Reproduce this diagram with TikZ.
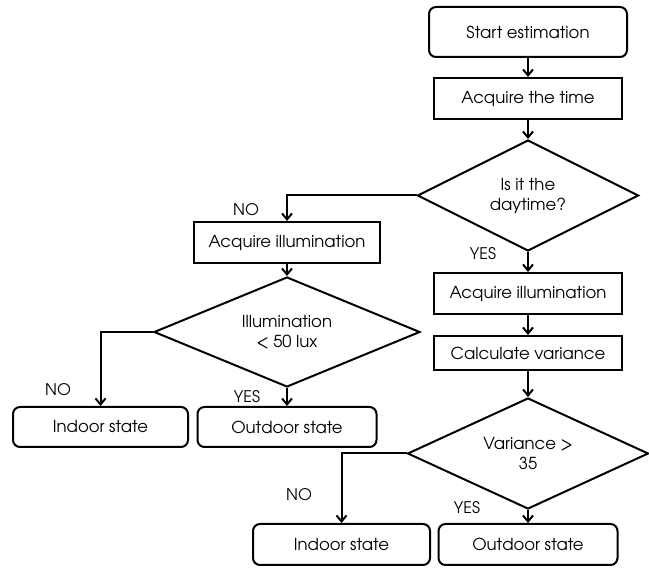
\documentclass[tikz,border=0pt]{standalone}
\usepackage{fontspec}
\setmainfont{TeX Gyre Adventor}
\usetikzlibrary{shapes.geometric,arrows.meta}
\tikzset{
  base/.style={draw=black, line width=2pt, inner sep=0pt, font=\fontsize{16.5}{20}\selectfont, align=center},
  rbox/.style={base, rectangle, rounded corners=7pt, minimum width=#1, minimum height=41pt},
  sbox/.style={base, rectangle, minimum width=#1, minimum height=41pt},
  dbox/.style={base, diamond, aspect=2},
  lbl/.style={font=\fontsize{16}{19}\selectfont, inner sep=0pt},
  arr/.style={line width=2pt, -{Straight Barb[length=6pt,width=10pt,line width=2pt]}}
}
\begin{document}
\begin{tikzpicture}[x=1pt,y=-1pt]
\useasboundingbox (0,0) rectangle (649,569);
\node[rbox=198pt, minimum height=50pt] (start) at (528,32) {Start estimation};
\node[sbox=188pt] (time) at (528,98.5) {Acquire the time};
\node[dbox, minimum width=221pt, minimum height=111pt] (day) at (528,195.5) {Is it the\\daytime?};
\node[sbox=188pt] (illR) at (528,293.5) {Acquire illumination};
\node[sbox=188pt, minimum height=34pt] (var) at (528,353) {Calculate variance};
\node[dbox, minimum width=241pt, minimum height=111pt] (vd) at (528,453.5) {Variance >\\35};
\node[rbox=177pt] (inR) at (341.5,544.5) {Indoor state};
\node[rbox=179pt] (outR) at (528,544.5) {Outdoor state};
\node[sbox=186pt] (illL) at (287,242.5) {Acquire illumination};
\node[dbox, minimum width=266pt, minimum height=110pt] (ld) at (287,332) {Illumination\\< 50 lux};
\node[rbox=175pt, minimum height=40pt] (inL) at (100.5,427) {Indoor state};
\node[rbox=179pt, minimum height=40pt] (outL) at (287,427) {Outdoor state};

\draw[arr] (start) -- (time);
\draw[arr] (time) -- (day.north);
\draw[arr] (day.west) -| (illL.north);
\draw[arr] (day.south) -- (illR.north);
\draw[arr] (illR) -- (var);
\draw[arr] (var) -- (vd.north);
\draw[arr] (illL) -- (ld.north);
\draw[arr] (ld.west) -| (inL.north);
\draw[arr] (ld.south) -- (outL.north);
\draw[arr] (vd.west) -| (inR.north);
\draw[arr] (vd.south) -- (outR.north);

\node[lbl] (no1) at (246,210) {NO};
\node[lbl] (yes1) at (483,254) {YES};
\node[lbl] (no2) at (58,390) {NO};
\node[lbl] (yes2) at (247,397) {YES};
\node[lbl] (no3) at (299,495) {NO};
\node[lbl] (yes3) at (467,508) {YES};
\end{tikzpicture}
\end{document}
